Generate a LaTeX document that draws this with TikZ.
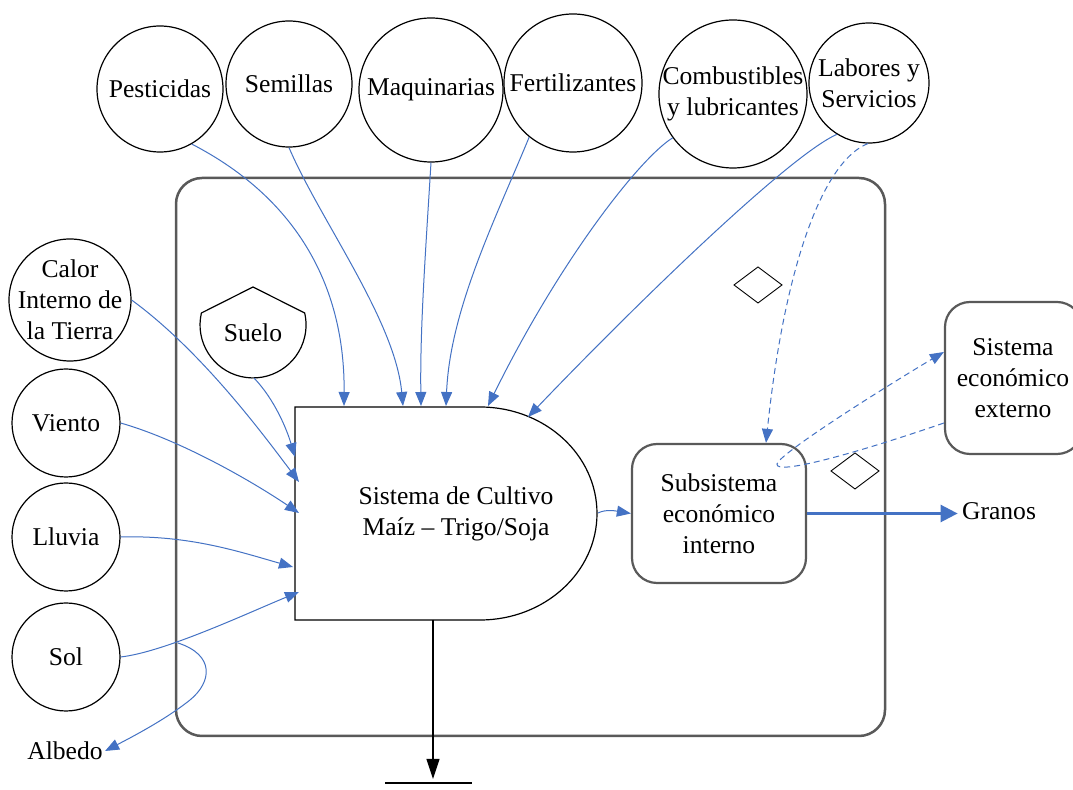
\documentclass[tikz,border=0pt]{standalone}
\usepackage{fontspec}
\setmainfont{Liberation Serif}
\usetikzlibrary{arrows.meta}
\definecolor{lineblue}{HTML}{4472C4}
\definecolor{boxgray}{HTML}{595959}
\begin{document}
\begin{tikzpicture}[x=0.5pt,y=-0.5pt,
  font=\fontsize{12.8}{15.5}\selectfont,
  src/.style={circle,draw=black,line width=0.6pt,inner sep=0pt},
  lbl/.style={align=center,inner sep=0pt},
  rbox/.style={draw=boxgray,line width=1.1pt,rounded corners=12.5pt,inner sep=0pt},
  flow/.style={draw=lineblue,line width=0.5pt,-{Triangle[length=7pt,width=5.5pt]}},
  dflow/.style={flow,dash pattern=on 3pt off 2pt},
  shapeline/.style={draw=black,line width=0.6pt}
]
\fill[white] (0,0) rectangle (1073,790);
\clip (0,0) rectangle (1073,790);

% outer system boundary
\draw[boxgray,line width=1.25pt,rounded corners=13pt] (176,178) rectangle (885,736);

% top sources
\node[src,minimum size=63pt] (pest) at (160,89) {};
\node[lbl] (pestt) at (pest) {Pesticidas};
\node[src,minimum size=63pt] (sem) at (289,84) {};
\node[lbl] (semt) at (sem) {Semillas};
\node[src,minimum size=72pt] (maq) at (431,90) {};
\node[lbl] (maqt) at (maq) {Maquinarias};
\node[src,minimum size=69pt] (fert) at (573,83) {};
\node[lbl] (fertt) at (fert) {Fertilizantes};
\node[src,minimum size=74pt] (comb) at (733,94) {};
\node[lbl] (combt) at (comb) {Combustibles\\y lubricantes};
\node[src,minimum size=60pt] (lab) at (869,83) {};
\node[lbl] (labt) at (lab) {Labores y\\Servicios};

% left sources
\node[src,minimum size=61pt] (cal) at (70,300) {};
\node[lbl] (calt) at (cal) {Calor\\Interno de\\la Tierra};
\node[src,minimum size=54pt] (vie) at (66,423) {};
\node[lbl] (viet) at (vie) {Viento};
\node[src,minimum size=54pt] (llu) at (66,537) {};
\node[lbl] (llut) at (llu) {Lluvia};
\node[src,minimum size=54pt] (sol) at (66,657) {};
\node[lbl] (solt) at (sol) {Sol};

% Suelo (storage)
\draw[shapeline] (253,287) -- (201.4,313) arc[start angle=167,end angle=373,radius=26.5pt] -- cycle;
\node[lbl] (suelo) at (253,333) {Suelo};
\coordinate (suelob) at (254,378);

% Sistema de cultivo (producer)
\draw[shapeline] (480,407) -- (295,407) -- (295,620) -- (480,620)
  arc[start angle=-90,end angle=90,x radius=58.5pt,y radius=53.25pt];
\node[lbl] (cult) at (456,514) {Sistema de Cultivo\\Maíz -- Trigo/Soja};

% economic subsystems
\node[rbox,minimum width=87pt,minimum height=69.5pt,align=center] (sub) at (719,513.5) {Subsistema\\económico\\interno};
\node[rbox,minimum width=68.5pt,minimum height=76pt] (ext) at (1013.5,378) {};
\node[lbl] (extt) at (1013,378) {Sistema\\económico\\externo};

% diamonds
\draw[black,line width=0.45pt] (734,285) -- (758,267) -- (782,285) -- (758,303) -- cycle;
\draw[black,line width=0.45pt] (831,471) -- (855,453) -- (879,471) -- (855,489) -- cycle;

% outputs
\node[inner sep=2pt] (gran) at (999,511) {Granos};
\node[inner sep=1pt] (alb) at (65,751) {Albedo};

% endpoints on the producer
\coordinate (e1) at (344,406);
\coordinate (e2) at (403,406);
\coordinate (e3) at (421,406);
\coordinate (e4) at (446,406);
\coordinate (e5) at (488,406);
\coordinate (e6) at (528,417);
\coordinate (l1) at (295,457);
\coordinate (l2) at (299,482);
\coordinate (l3) at (299,513);
\coordinate (l4) at (293,567);
\coordinate (l5) at (299,592);
\coordinate (cr) at (598,513);
\coordinate (refl) at (178,643);
\coordinate (cbot) at (433,620);
\coordinate (gtop) at (433,779);
\coordinate (g1) at (385,783);
\coordinate (g2) at (472,783);

% inflows from top
\draw[flow] (pest.-60) .. controls (300,200) and (345,290) .. (e1);
\draw[flow] (sem.-90) .. controls (320,220) and (395,320) .. (e2);
\draw[flow] (maq.-90) .. controls (425,260) and (420,330) .. (e3);
\draw[flow] (fert.-129) .. controls (495,220) and (450,310) .. (e4);
\draw[flow] (comb.-144) .. controls (640,158) and (560,260) .. (e5);
\draw[flow] (lab.-122) .. controls (790,155) and (640,300) .. (e6);
\draw[dflow] (lab.-91) .. controls (825,160) and (785,260) .. (sub.north -| 766,0);

% inflows from left
\draw[flow] (suelob) .. controls (275,400) and (287,430) .. (l1);
\draw[flow] (cal.0) .. controls (200,350) and (260,430) .. (l2);
\draw[flow] (vie.0) .. controls (180,440) and (250,480) .. (l3);
\draw[flow] (llu.0) .. controls (190,535) and (240,552) .. (l4);
\draw[flow] (sol.0) .. controls (165,652) and (250,612) .. (l5);
\draw[flow] (refl) .. controls (215,655) and (212,682) .. (190,700) .. controls (165,720) and (130,738) .. (alb.east);

% producer to economic subsystem
\draw[flow] (cr) .. controls (606,509) and (616,511) .. (sub.west);

% economic exchange loop
\draw[dflow] ([yshift=-22.5pt]ext.west) .. controls (860,452) and (775,476) .. (777,464) .. controls (779,454) and (880,390) .. ([yshift=13pt]ext.west);

% Granos export
\draw[lineblue,line width=1.25pt,-{Triangle[length=8.5pt,width=8.5pt]}] (sub.east) -- (sub.east -| gran.west);

% heat sink
\draw[black,line width=0.6pt,-{Triangle[length=10pt,width=6.5pt]}] (cbot) -- (gtop);
\draw[black,line width=0.6pt] (g1) -- (g2);
\end{tikzpicture}
\end{document}
